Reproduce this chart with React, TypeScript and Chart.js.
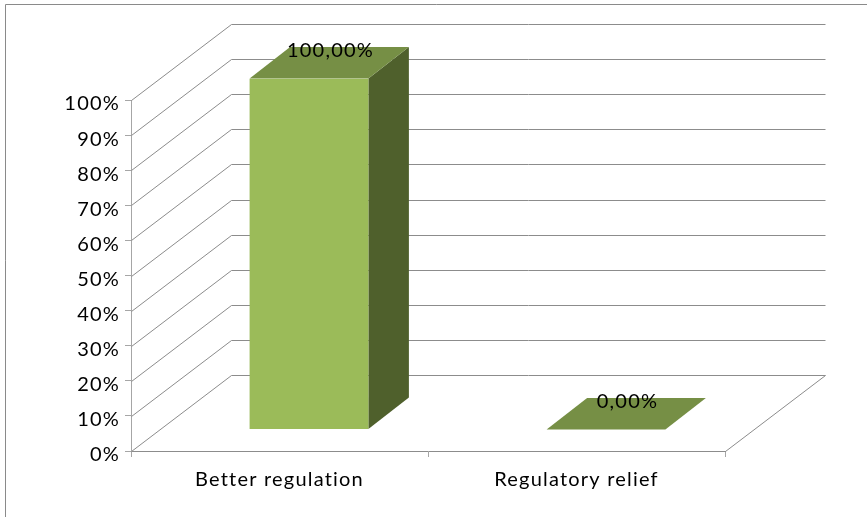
import { useEffect, useRef } from "react";
import { Chart, registerables } from "chart.js";

Chart.register(...registerables);

const categories = ["Better regulation", "Regulatory relief"];
const shares = [100, 0];
const yTicks = { min: 0, max: 100, step: 10 };

const FONT = "Lato";
const GRID = "#8c8c8c";
const AXIS = "#a6a6a6";
const FRONT = "#9bbb59";
const TOP = "#768f45";
const SIDE = "#4f602c";

// Oblique projection of the box: how far the back wall sits from the front plane,
// where the bars start inside the box, and how deep they are.
const wall = { dx: 100, dy: -76 };
const barStart = { dx: 29.5, dy: -21.5 };
const barDepth = { dx: 40.5, dy: -31.5 };
const labelShift = { dx: 21.5, dy: -28 };

const formatShare = (v: number) => v.toFixed(2).replace(".", ",") + "%";

const crisp = (v: number) => Math.round(v) + 0.5;

const poly = (ctx: CanvasRenderingContext2D, pts: number[][], fill: string) => {
  ctx.beginPath();
  pts.forEach(([x, y], i) => (i ? ctx.lineTo(x, y) : ctx.moveTo(x, y)));
  ctx.closePath();
  ctx.fillStyle = fill;
  ctx.fill();
};

const box3d = {
  id: "box3d",
  beforeDraw(chart: any) {
    const { ctx, width, height } = chart;
    ctx.save();
    ctx.fillStyle = "#ffffff";
    ctx.fillRect(0, 0, width, height);
    // outer chart frame, running off the right and bottom edges
    ctx.strokeStyle = "#8a8a8a";
    ctx.lineWidth = 1;
    ctx.beginPath();
    ctx.moveTo(5.5, height);
    ctx.lineTo(5.5, 4.5);
    ctx.lineTo(width, 4.5);
    ctx.stroke();
    ctx.restore();
    // all chart text is slightly tracked out
    ctx.letterSpacing = "1.2px";
  },
  beforeDatasetsDraw(chart: any) {
    const { ctx, chartArea, scales } = chart;
    const { left, right } = chartArea;
    ctx.save();
    ctx.lineWidth = 1;
    ctx.strokeStyle = GRID;
    scales.y.ticks.forEach((t: any) => {
      const y = crisp(scales.y.getPixelForValue(t.value));
      ctx.beginPath();
      ctx.moveTo(left + 0.5, y);
      ctx.lineTo(left + wall.dx + 0.5, y + wall.dy);
      ctx.lineTo(right + wall.dx + 0.5, y + wall.dy);
      ctx.stroke();
    });
    // right edge of the floor
    const y0 = crisp(scales.y.getPixelForValue(0));
    ctx.beginPath();
    ctx.moveTo(right + 0.5, y0);
    ctx.lineTo(right + wall.dx + 0.5, y0 + wall.dy);
    ctx.stroke();
    ctx.restore();

    // bar fronts are drawn by the dataset itself, pushed back into the box
    ctx.save();
    ctx.translate(barStart.dx, barStart.dy);
    const meta = chart.getDatasetMeta(0);
    meta.data.forEach((bar: any) => {
      const l = bar.x - bar.width / 2;
      const r = bar.x + bar.width / 2;
      const { dx, dy } = barDepth;
      poly(ctx, [[r, bar.y], [r + dx, bar.y + dy], [r + dx, bar.base + dy], [r, bar.base]], SIDE);
      poly(ctx, [[l, bar.y], [l + dx, bar.y + dy], [r + dx, bar.y + dy], [r, bar.y]], TOP);
    });
  },
  afterDatasetsDraw(chart: any) {
    const { ctx } = chart;
    ctx.restore();
    ctx.save();
    ctx.font = `20px ${FONT}`;
    ctx.fillStyle = "#000000";
    ctx.textAlign = "center";
    ctx.textBaseline = "middle";
    chart.getDatasetMeta(0).data.forEach((bar: any, i: number) => {
      ctx.fillText(
        formatShare(shares[i]),
        bar.x + barStart.dx + labelShift.dx,
        bar.y + barStart.dy + labelShift.dy,
      );
    });
    ctx.restore();
  },
};

export default function App() {
  const ref = useRef<HTMLCanvasElement>(null);

  useEffect(() => {
    const chart = new Chart(ref.current!, {
      type: "bar",
      data: {
        labels: categories,
        datasets: [
          {
            data: shares,
            backgroundColor: FRONT,
            barPercentage: 0.4,
            categoryPercentage: 1,
          },
        ],
      },
      options: {
        responsive: false,
        animation: false,
        layout: { padding: { top: 100, right: 142, left: 0, bottom: 0 } },
        plugins: { legend: { display: false }, tooltip: { enabled: false }, title: { display: false } },
        scales: {
          x: {
            afterFit: (s: any) => {
              s.height = 66;
            },
            grid: { drawOnChartArea: false, drawTicks: true, tickLength: 6, tickColor: AXIS, offset: true },
            border: { color: GRID, width: 1 },
            ticks: { color: "#000000", font: { family: FONT, size: 20 }, padding: 11, maxRotation: 0 },
          },
          y: {
            min: yTicks.min,
            max: yTicks.max,
            afterFit: (s: any) => {
              s.width = 131;
            },
            grid: { drawOnChartArea: false, drawTicks: true, tickLength: 6, tickColor: AXIS },
            border: { color: AXIS, width: 1 },
            ticks: {
              stepSize: yTicks.step,
              color: "#000000",
              font: { family: FONT, size: 20 },
              padding: 5,
              labelOffset: 4,
              callback: (v: any) => `${v}%`,
            },
          },
        },
      },
      plugins: [box3d],
    } as any);
    return () => chart.destroy();
  }, []);

  return (
    <canvas
      ref={ref}
      width={867}
      height={517}
      style={{ position: "fixed", left: 0, top: 0, width: 867, height: 517, display: "block" }}
    />
  );
}
